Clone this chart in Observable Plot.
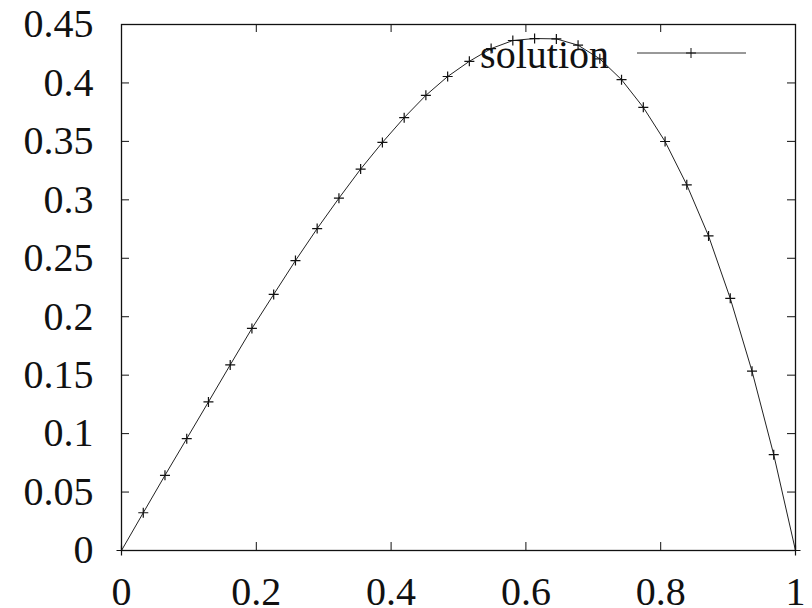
<!DOCTYPE html>
<html>
<head>
<meta charset="utf-8">
<script src="https://cdn.jsdelivr.net/npm/d3@7"></script>
<script src="https://cdn.jsdelivr.net/npm/@observablehq/plot@0.6"></script>
<style>
  html, body { margin: 0; padding: 0; background: #fff; }
  #chart svg { display: block; }
  #chart svg text { font-family: "Liberation Serif", "Times New Roman", serif; }
</style>
</head>
<body>
<div id="chart"></div>
<script>
// Sampled solution u(x) on a uniform grid of 32 nodes over [0, 1]
const xs = [0, 0.0323, 0.0645, 0.0968, 0.1290, 0.1613, 0.1935, 0.2258, 0.2581, 0.2903,
            0.3226, 0.3548, 0.3871, 0.4194, 0.4516, 0.4839, 0.5161, 0.5484, 0.5806, 0.6129,
            0.6452, 0.6774, 0.7097, 0.7419, 0.7742, 0.8065, 0.8387, 0.8710, 0.9032, 0.9355,
            0.9677, 1];
const us = [0, 0.0323, 0.0643, 0.0957, 0.1271, 0.1588, 0.1900, 0.2191, 0.2480, 0.2754,
            0.3014, 0.3263, 0.3491, 0.3703, 0.3894, 0.4055, 0.4185, 0.4294, 0.4363, 0.4380,
            0.4377, 0.4323, 0.4206, 0.4028, 0.3791, 0.3499, 0.3128, 0.2691, 0.2157, 0.1534,
            0.0820, 0];

const seriesName = "solution";

const xTicks = [0, 0.2, 0.4, 0.6, 0.8, 1];
const xTickLabels = ["0", "0.2", "0.4", "0.6", "0.8", "1"];
const yTicks = [0, 0.05, 0.1, 0.15, 0.2, 0.25, 0.3, 0.35, 0.4, 0.45];
const yTickLabels = ["0", "0.05", "0.1", "0.15", "0.2", "0.25", "0.3", "0.35", "0.4", "0.45"];

const data = xs.map((x, i) => ({x, u: us[i]}));

const W = 812, H = 608;
const margin = {left: 121, right: 17, top: 24, bottom: 58};
const frameW = W - margin.left - margin.right;
const frameH = H - margin.top - margin.bottom;
const tickLen = 8;
const font = "Liberation Serif";
const ink = "#111";

// gnuplot-style "+" point: two thin strokes
const plusSymbol = {
  draw(context, size) {
    const r = Math.sqrt(size / Math.PI);
    context.moveTo(-r, 0); context.lineTo(r, 0);
    context.moveTo(0, -r); context.lineTo(0, r);
  }
};

// Key in the top-right corner of the frame: label, line sample and a point
function key(index, scales, values, dimensions) {
  const right = dimensions.width - dimensions.marginRight;
  const top = dimensions.marginTop;
  const g = d3.create("svg:g");
  g.append("text")
    .attr("x", right - 186).attr("y", top + 44)
    .attr("text-anchor", "end")
    .attr("fill", ink)
    .style("font-family", font).style("font-size", "40px")
    .text(seriesName);
  g.append("line")
    .attr("x1", right - 158).attr("x2", right - 49)
    .attr("y1", top + 29).attr("y2", top + 29)
    .attr("stroke", "#333").attr("stroke-width", 1);
  g.append("path")
    .attr("transform", `translate(${right - 104},${top + 29})`)
    .attr("d", d3.symbol(plusSymbol, Math.PI * 25)())
    .attr("stroke", ink).attr("fill", "none").attr("stroke-width", 1);
  return g.node();
}

const chart = Plot.plot({
  width: W,
  height: H,
  marginLeft: margin.left,
  marginRight: margin.right,
  marginTop: margin.top,
  marginBottom: margin.bottom,
  style: {fontFamily: font, fontSize: "40px", background: "#fff", color: ink},
  x: {domain: [0, 1], label: null},
  y: {domain: [0, 0.45], label: null},
  marks: [
    Plot.axisX({ticks: xTicks, tickFormat: (d) => xTickLabels[xTicks.indexOf(d)], label: null,
      anchor: "bottom", tickSize: 0, tickPadding: 26, fontSize: 40, fontFamily: font, fill: ink}),
    Plot.axisY({ticks: yTicks, tickFormat: (d) => yTickLabels[yTicks.indexOf(d)], label: null,
      anchor: "left", tickSize: 0, tickPadding: 28, fontSize: 40, fontFamily: font, fill: ink}),
    // inward ticks on all four sides
    Plot.tickY(yTicks, {y: d => d, insetRight: frameW - tickLen, stroke: ink}),
    Plot.tickY(yTicks, {y: d => d, insetLeft: frameW - tickLen, stroke: ink}),
    Plot.tickX(xTicks, {x: d => d, insetTop: frameH - tickLen, stroke: ink}),
    Plot.tickX(xTicks, {x: d => d, insetBottom: frameH - tickLen, stroke: ink}),
    Plot.line(data, {x: "x", y: "u", stroke: "#222", strokeWidth: 1}),
    Plot.dot(data, {x: "x", y: "u", symbol: plusSymbol, r: 5, stroke: ink, fill: "none", strokeWidth: 1.2}),
    key,
    Plot.frame({stroke: ink, strokeWidth: 1.3})
  ]
});

document.getElementById("chart").appendChild(chart);
</script>
</body>
</html>
